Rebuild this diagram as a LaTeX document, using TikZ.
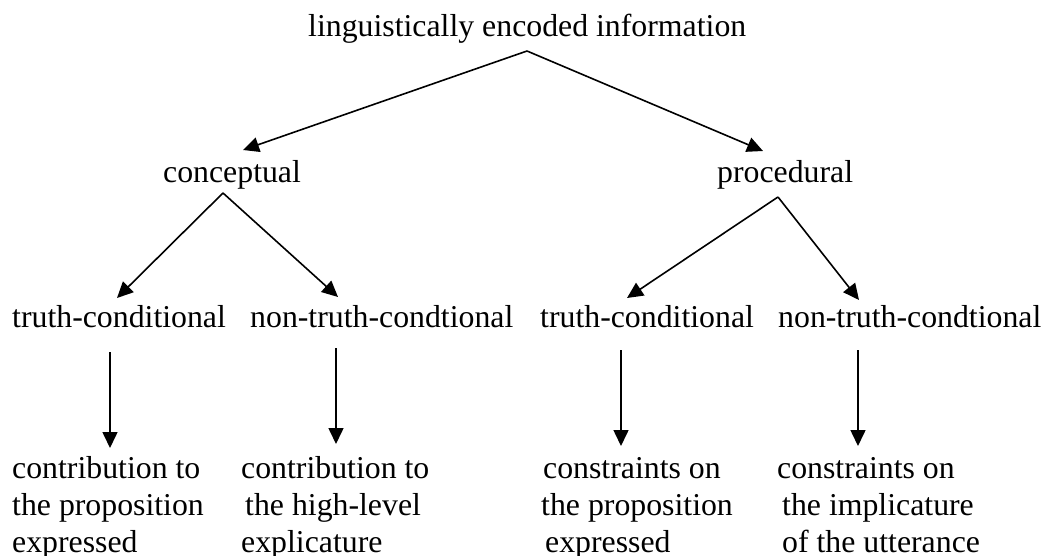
\documentclass[tikz,border=0pt]{standalone}
\usepackage{fontspec}
\setmainfont{Liberation Serif}
\usetikzlibrary{arrows.meta}
\begin{document}
\begin{tikzpicture}[x=1pt,y=-1pt,
  lbl/.style={anchor=base west,inner sep=0pt,font=\fontsize{31.8}{37}\selectfont},
  blk/.style={lbl,align=left},
  arr/.style={line width=1.6pt,-{Triangle[length=16pt,width=15pt]}}]
\useasboundingbox (0,0) rectangle (1045,556);
% nodes
\node[lbl] (top) at (308,37) {linguistically encoded information};
\node[lbl] (conc) at (163,183) {conceptual};
\node[lbl] (proc) at (717,183) {procedural};
\node[lbl] (ltc) at (12,327) {truth-conditional};
\node[lbl] (lntc) at (250,327) {non-truth-condtional};
\node[lbl] (rtc) at (540,327) {truth-conditional};
\node[lbl] (rntc) at (778,327) {non-truth-condtional};
\node[blk] (b1) at (12,552) {contribution to\\the proposition\\expressed};
\node[blk] (b2) at (241,552) {contribution to\\\hspace*{4pt}the high-level\\explicature};
\node[blk] (b3) at (543,552) {constraints on\\\hspace*{-2pt}the proposition\\\hspace*{2pt}expressed};
\node[blk] (b4) at (777,552) {constraints on\\\hspace*{5pt}the implicature\\\hspace*{5pt}of the utterance};
% connector end points
\coordinate (top-s) at (527,51);
\coordinate (conc-n) at (243,150);
\coordinate (proc-n) at (763,151);
\coordinate (conc-s) at (223,193);
\coordinate (ltc-n) at (117,298);
\coordinate (lntc-n) at (338,297);
\coordinate (proc-s) at (778,197);
\coordinate (rtc-n) at (627,298);
\coordinate (rntc-n) at (859,300);
\coordinate (ltc-s) at (110,352);
\coordinate (b1-n) at (110,448);
\coordinate (lntc-s) at (336,348);
\coordinate (b2-n) at (336,444);
\coordinate (rtc-s) at (621,350);
\coordinate (b3-n) at (621,446);
\coordinate (rntc-s) at (858,350);
\coordinate (b4-n) at (858,446);
% connectors
\draw[arr] (top-s) -- (conc-n);
\draw[arr] (top-s) -- (proc-n);
\draw[arr] (conc-s) -- (ltc-n);
\draw[arr] (conc-s) -- (lntc-n);
\draw[arr] (proc-s) -- (rtc-n);
\draw[arr] (proc-s) -- (rntc-n);
\draw[arr] (ltc-s) -- (b1-n);
\draw[arr] (lntc-s) -- (b2-n);
\draw[arr] (rtc-s) -- (b3-n);
\draw[arr] (rntc-s) -- (b4-n);
\end{tikzpicture}
\end{document}
